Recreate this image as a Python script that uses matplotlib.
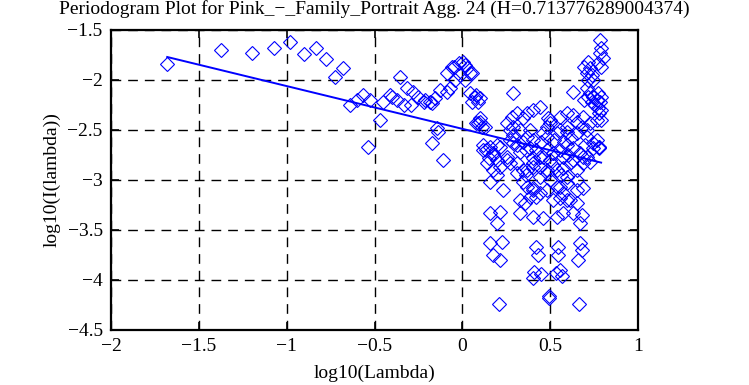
import matplotlib
matplotlib.use("Agg")
import matplotlib.pyplot as plt

# periodogram points (log10 lambda, log10 I(lambda))
log_lambda = [
    -1.68, -1.376, -1.20, -1.072, -0.98, -0.90, -0.833, -0.776, -0.725, -0.68,
    -0.64, -0.60, -0.565, -0.526, -0.536, -0.47, -0.45, -0.41, -0.374, -0.355,
    -0.40, -0.317, -0.28, -0.25, -0.213, -0.185, -0.156, -0.127, -0.09, -0.07,
    -0.33, -0.29, -0.22, -0.17, -0.146, -0.175, -0.11, -0.137,
    -0.09, -0.05, -0.02, 0.005, 0.024, 0.053, -0.014, -0.042, 0.015, -0.06, 0.015, 0.043,
    0.043, 0.072, 0.09, 0.053, 0.08, 0.10,
    0.09, 0.11, 0.08, 0.10, 0.10, 0.13,
    0.12, 0.157, 0.176, 0.15, 0.195, 0.117, 0.135, 0.175, 0.195,
    0.214, 0.252, 0.286,
    0.28, 0.31, 0.345, 0.37, 0.29, 0.33, 0.385, 0.40, 0.44, 0.252, 0.27, 0.29, 0.366, 0.40, 0.46, 0.48,
    0.49, 0.50,
    0.27, 0.31, 0.345, 0.385, 0.42, 0.44, 0.29, 0.33, 0.36, 0.40,
    0.48, 0.515, 0.555, 0.593, 0.63, 0.67, 0.707, 0.743, 0.78,
    0.50, 0.555, 0.593, 0.63, 0.688, 0.726, 0.765, 0.65, 0.68, 0.707, 0.593, 0.555,
    0.48, 0.537, 0.593, 0.65, 0.707, 0.743, 0.78, 0.765,
    0.46, 0.517, 0.574, 0.63, 0.688, 0.726,
    0.138, 0.175, 0.214, 0.27, 0.31, 0.366, 0.40, 0.44, 0.48, 0.517, 0.574, 0.612, 0.65, 0.688,
    0.252, 0.31, 0.345, 0.40, 0.44, 0.48, 0.345, 0.40,
    0.537, 0.593, 0.65, 0.688, 0.555, 0.48, 0.517, 0.593, 0.65,
    0.157, 0.233, 0.195,
    0.366, 0.40, 0.44, 0.385,
    0.50, 0.537, 0.574, 0.593, 0.612, 0.65,
    0.33, 0.356, 0.42, 0.555,
    0.157, 0.214, 0.195,
    0.33, 0.40, 0.46, 0.537, 0.574, 0.63, 0.68, 0.67,
    0.157, 0.224, 0.176, 0.214,
    0.42, 0.43, 0.546, 0.546, 0.67, 0.68, 0.66,
    0.41, 0.40, 0.445, 0.555, 0.57, 0.535,
    0.208, 0.495, 0.495, 0.665,
    0.783, 0.79, 0.783, 0.80, 0.77, 0.79, 0.714, 0.695, 0.725, 0.707, 0.736, 0.745,
    0.714, 0.63, 0.707, 0.726, 0.745, 0.765, 0.783, 0.736, 0.755, 0.774, 0.79, 0.714,
    0.695, 0.774, 0.79, 0.78, 0.79, 0.78,
    0.45, 0.52, 0.58, 0.62, 0.70, 0.36, 0.50, 0.56, 0.60,
]
log_power = [
    -1.84, -1.70, -1.73, -1.68, -1.62, -1.74, -1.68, -1.79, -1.97, -1.88,
    -2.25, -2.20, -2.15, -2.20, -2.67, -2.40, -2.22, -2.15, -2.20, -1.97,
    -2.17, -2.08, -2.12, -2.17, -2.20, -2.22, -2.18, -2.10, -2.12, -2.08,
    -2.25, -2.25, -2.22, -2.23, -2.48, -2.63, -2.80, -2.52,
    -1.93, -1.87, -1.83, -1.82, -1.88, -1.93, -1.95, -2.00, -2.00, -1.87, -1.85, -1.93,
    -2.13, -2.17, -2.22, -2.22, -2.15, -2.18,
    -2.43, -2.47, -2.43, -2.38, -2.42, -2.47,
    -2.70, -2.67, -2.73, -2.78, -2.80, -2.65, -2.70, -2.75, -2.65,
    -2.67, -2.80, -2.13,
    -2.37, -2.33, -2.38, -2.33, -2.47, -2.50, -2.50, -2.30, -2.27, -2.43, -2.50, -2.55, -2.57, -2.60, -2.53, -2.47,
    -2.38, -2.43,
    -2.60, -2.65, -2.62, -2.68, -2.70, -2.77, -2.63, -2.72, -2.70, -2.78,
    -2.70, -2.73, -2.70, -2.65, -2.68, -2.73, -2.77, -2.68, -2.67,
    -2.40, -2.37, -2.33, -2.35, -2.37, -2.43, -2.40, -2.42, -2.47, -2.50, -2.47, -2.50,
    -2.57, -2.53, -2.52, -2.53, -2.57, -2.63, -2.68, -2.60,
    -2.77, -2.73, -2.77, -2.80, -2.77, -2.82,
    -2.83, -2.90, -2.87, -2.83, -2.93, -2.90, -2.83, -2.87, -2.90, -2.85, -2.88, -2.83, -2.90, -2.83,
    -2.77, -2.83, -2.90, -2.87, -2.97, -2.93, -3.02, -3.08,
    -2.90, -2.97, -3.00, -3.08, -3.07, -3.10, -3.20, -3.20, -3.23,
    -3.02, -3.10, -2.95,
    -3.07, -3.10, -3.13, -3.17,
    -3.00, -3.07, -3.13, -3.03, -3.20, -3.10,
    -3.20, -3.23, -3.17, -3.18,
    -3.33, -3.32, -3.43,
    -3.33, -3.37, -3.38, -3.37, -3.33, -3.33, -3.35, -3.43,
    -3.63, -3.62, -3.75, -3.80,
    -3.67, -3.75, -3.67, -3.75, -3.63, -3.70, -3.80,
    -3.92, -3.98, -3.94, -3.90, -3.96, -3.93,
    -4.24, -4.16, -4.18, -4.24,
    -1.60, -1.68, -1.73, -1.78, -1.83, -1.87, -1.82, -1.87, -1.88, -1.93, -1.95, -2.00,
    -2.00, -2.12, -2.08, -2.13, -2.17, -2.20, -2.22, -2.22, -2.25, -2.28, -2.30, -2.17,
    -2.20, -2.13, -2.17, -2.33, -2.40, -2.67,
    -2.62, -2.60, -2.62, -2.58, -2.65, -2.95, -2.80, -2.95, -2.75,
]

# least-squares fit line end points (slope = 1 - 2H)
fit_x = [-1.68, 0.79]
fit_y = [-1.77, -2.826]

title = "Periodogram Plot for Pink_\u2212_Family_Portrait Agg. 24 (H=0.713776289004374)"
xticks = [-2, -1.5, -1, -0.5, 0, 0.5, 1]
yticks = [-4.5, -4, -3.5, -3, -2.5, -2, -1.5]

plt.rcParams["font.family"] = ["Liberation Serif", "DejaVu Serif"]
plt.rcParams["font.size"] = 14

fig = plt.figure(figsize=(7.49, 3.85), dpi=100)
ax = fig.add_axes([111 / 749, 55 / 385, 527 / 749, 300 / 385])

ax.plot(log_lambda, log_power, linestyle="none", marker="D", markersize=6.8,
        markerfacecolor="none", markeredgecolor="#0000ff", markeredgewidth=0.8)
ax.plot(fit_x, fit_y, color="#0000ff", linewidth=1.4)

ax.set_xlim(-2, 1)
ax.set_ylim(-4.5, -1.5)
ax.set_xticks(xticks)
ax.set_yticks(yticks)
ax.set_xticklabels([f"{t:g}".replace("-", "\u2212") for t in xticks])
ax.set_yticklabels([f"{t:g}".replace("-", "\u2212") for t in yticks])
ax.tick_params(direction="in", length=6, width=1.2, top=True, right=True, labelsize=14, pad=6)
ax.grid(True, color="black", linestyle=(0, (7, 5)), linewidth=1.0)
for s in ax.spines.values():
    s.set_linewidth(1.6)

# title sits at the very top, just clear of the -1.5 tick label
fig.text(0.5 * (111 + 638) / 749, 0.999, title, fontsize=14, ha="center", va="top")
ax.set_xlabel("log10(Lambda)", fontsize=14, labelpad=7)
ax.set_ylabel("log10(I(lambda))", fontsize=14, labelpad=5)

fig.savefig("out.png", dpi=100)
